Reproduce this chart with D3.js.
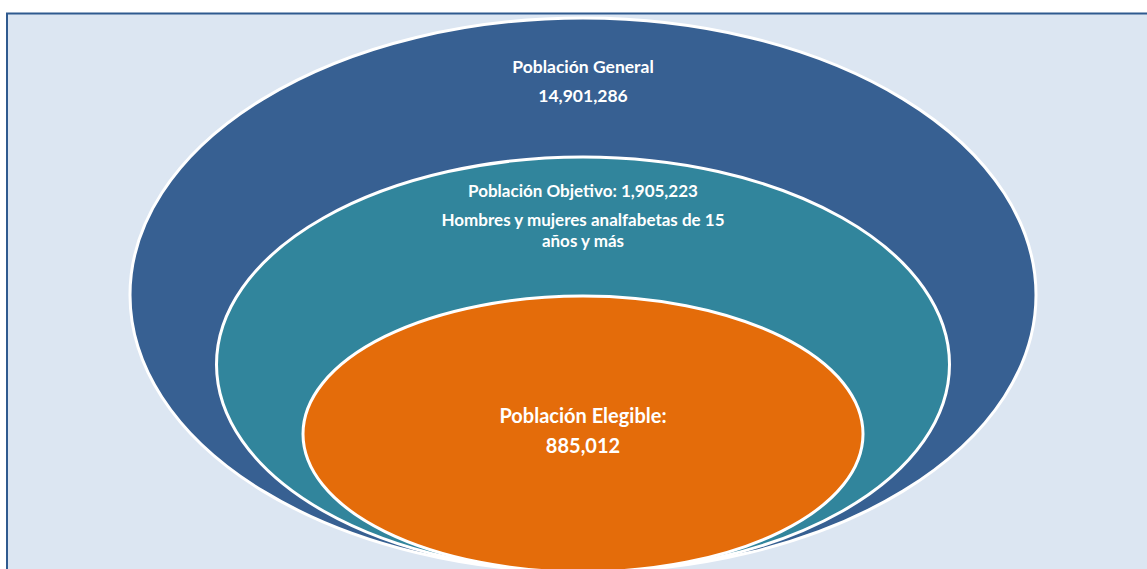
<!DOCTYPE html>
<html>
<head>
<meta charset="utf-8">
<script src="https://cdn.jsdelivr.net/npm/d3@7"></script>
<style>
  html, body { margin: 0; padding: 0; background: #ffffff; overflow: hidden; }
  text { font-family: Lato, "Open Sans", sans-serif; font-weight: bold; fill: #ffffff; }
</style>
</head>
<body>
<div id="chart"></div>
<script>
// Population levels, outer to inner
const levels = ["Población General", "Población Objetivo", "Población Elegible"];
const populations = [14901286, 1905223, 885012];
const fills = ["#376092", "#31859c", "#e46c0a"];

// text lines shown in each ring
const labelLines = [
  ["Población General", "14,901,286"],
  ["Población Objetivo: 1,905,223", "Hombres y mujeres analfabetas de 15", "años y más"],
  ["Población Elegible:", "885,012"]
];

const width = 1147, height = 569;

const svg = d3.select("#chart").append("svg")
  .attr("width", width)
  .attr("height", height);

// Background panel
svg.append("rect")
  .attr("x", 7)
  .attr("y", 13.5)
  .attr("width", width + 10)
  .attr("height", height)
  .attr("fill", "#dce6f2")
  .attr("stroke", "#2f5a8f")
  .attr("stroke-width", 2);

// Ring sizes by nesting level, all sharing the same bottom
const rx = d3.scaleLinear().domain([0, levels.length - 1]).range([453, 280]);
const ry = d3.scaleLinear().domain([0, levels.length - 1]).range([277, 138]);
const bottom = 572;
const cx = 583;

const rings = levels.map((name, i) => ({
  name: name,
  value: populations[i],
  lines: labelLines[i],
  i: i
}));

svg.selectAll("ellipse.ring")
  .data(rings)
  .join("ellipse")
  .attr("class", "ring")
  .attr("cx", cx)
  .attr("cy", d => bottom - ry(d.i))
  .attr("rx", d => rx(d.i))
  .attr("ry", d => ry(d.i))
  .attr("fill", (d, i) => fills[i])
  .attr("stroke", "#ffffff")
  .attr("stroke-width", 3);

// Labels
const labelTop = [73, 197, 423];
const lineGap = [[0, 29], [0, 29, 21], [0, 30]];
const fontSize = [17.5, 17, 20];

rings.forEach((d, i) => {
  const t = svg.append("text")
    .attr("text-anchor", "middle")
    .style("font-size", fontSize[i] + "px");
  let y = labelTop[i];
  d.lines.forEach((line, j) => {
    y += lineGap[i][j];
    t.append("tspan")
      .attr("x", cx)
      .attr("y", y)
      .text(line);
  });
});
</script>
</body>
</html>
